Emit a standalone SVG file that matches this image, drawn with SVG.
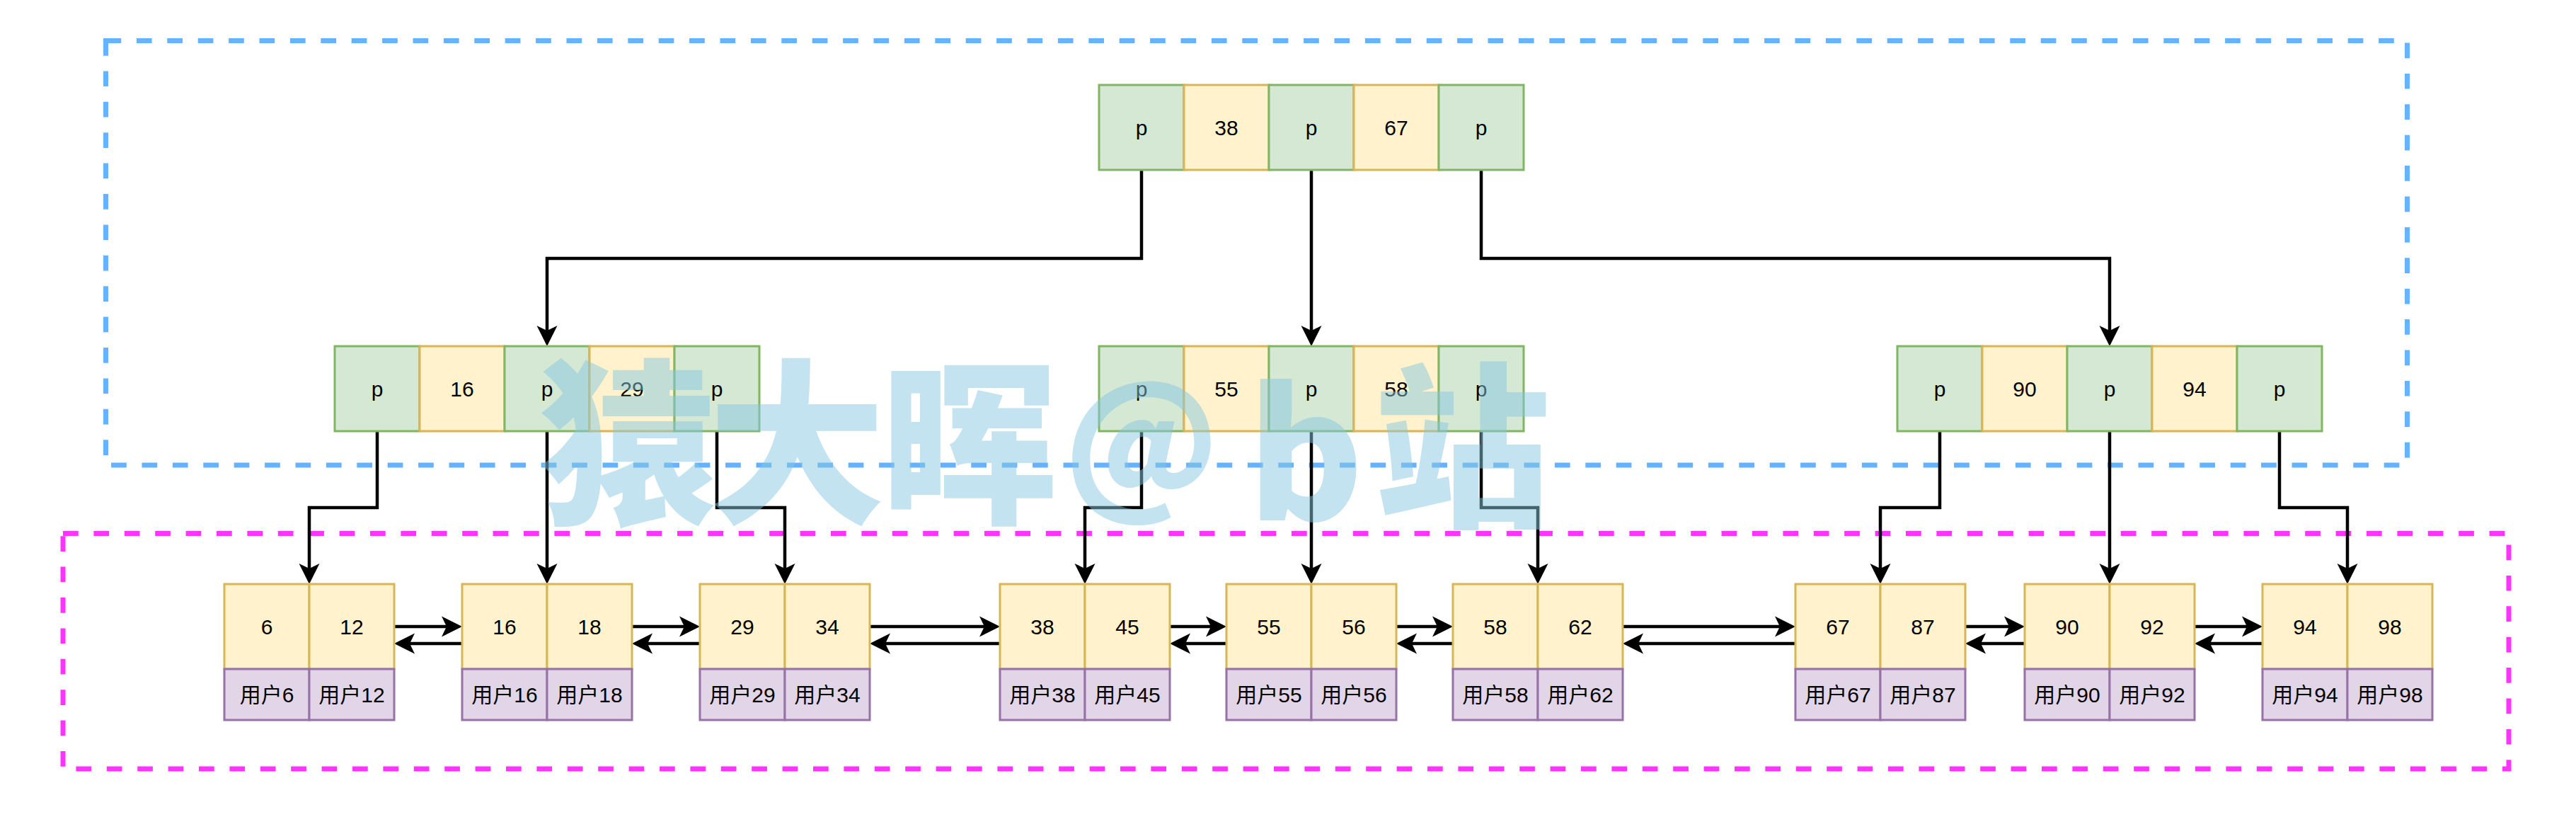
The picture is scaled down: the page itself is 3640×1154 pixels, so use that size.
<svg xmlns="http://www.w3.org/2000/svg" width="3640" height="1154" viewBox="0 0 3640 1154">
<defs>
<style>
.g{fill:#d5e8d4;stroke:#82b366;stroke-width:3}
.y{fill:#fff2cc;stroke:#d6b656;stroke-width:3}
.v{fill:#e1d5e7;stroke:#9673a6;stroke-width:3}
.t{font-family:"Liberation Sans","Noto Sans CJK SC",sans-serif;font-size:30px;text-anchor:middle;fill:#000}
.e{fill:none;stroke:#000;stroke-width:4.5;marker-end:url(#arr)}
.wm{font-family:"Noto Sans CJK SC",sans-serif;font-weight:900;font-size:250px;text-anchor:middle;fill:#87c8e0;opacity:0.5}
</style>
<marker id="arr" markerUnits="userSpaceOnUse" viewBox="-12 -16 34 32" refX="0" refY="0" markerWidth="34" markerHeight="32" orient="auto">
<path d="M20,0 L-9,-14.5 L-2,0 L-9,14.5 Z" fill="#000"/>
</marker>
</defs>
<rect width="3640" height="1154" fill="#fff"/>
<g id="containers">
<rect id="upper-box" x="149.5" y="57.5" width="3252" height="599.5" fill="none" stroke="#66B2FF" stroke-width="7" stroke-dasharray="21.7 21.7"/>
<rect id="leaf-box" x="89" y="753.5" width="3456" height="332.5" fill="none" stroke="#FF33FF" stroke-width="7" stroke-dasharray="21.7 21.7"/>
</g>
<g id="connectors">
<path class="e" d="M1613,240 V365 H773 V469"/>
<path class="e" d="M1853,240 V469"/>
<path class="e" d="M2093,240 V365 H2981 V469"/>
<path class="e" d="M533,609 V717 H437 V805"/>
<path class="e" d="M773,609 V805"/>
<path class="e" d="M1013,609 V717 H1109 V805"/>
<path class="e" d="M1613,609 V717 H1533 V805"/>
<path class="e" d="M1853,609 V805"/>
<path class="e" d="M2093,609 V717 H2173 V805"/>
<path class="e" d="M2741,609 V717 H2657 V805"/>
<path class="e" d="M2981,609 V805"/>
<path class="e" d="M3221,609 V717 H3317 V805"/>
<path class="e" d="M557,885 H633"/><path class="e" d="M653,909 H577"/>
<path class="e" d="M893,885 H969"/><path class="e" d="M989,909 H913"/>
<path class="e" d="M1229,885 H1393"/><path class="e" d="M1413,909 H1249"/>
<path class="e" d="M1653,885 H1713"/><path class="e" d="M1733,909 H1673"/>
<path class="e" d="M1973,885 H2033"/><path class="e" d="M2053,909 H1993"/>
<path class="e" d="M2293,885 H2517"/><path class="e" d="M2537,909 H2313"/>
<path class="e" d="M2777,885 H2841"/><path class="e" d="M2861,909 H2797"/>
<path class="e" d="M3101,885 H3177"/><path class="e" d="M3197,909 H3121"/>
</g>
<g id="root">
<rect class="g" x="1553" y="120" width="120" height="120"/><text class="t" x="1613" y="191">p</text>
<rect class="y" x="1673" y="120" width="120" height="120"/><text class="t" x="1733" y="191">38</text>
<rect class="g" x="1793" y="120" width="120" height="120"/><text class="t" x="1853" y="191">p</text>
<rect class="y" x="1913" y="120" width="120" height="120"/><text class="t" x="1973" y="191">67</text>
<rect class="g" x="2033" y="120" width="120" height="120"/><text class="t" x="2093" y="191">p</text>
</g>
<g id="inner-left">
<rect class="g" x="473" y="489" width="120" height="120"/><text class="t" x="533" y="560">p</text>
<rect class="y" x="593" y="489" width="120" height="120"/><text class="t" x="653" y="560">16</text>
<rect class="g" x="713" y="489" width="120" height="120"/><text class="t" x="773" y="560">p</text>
<rect class="y" x="833" y="489" width="120" height="120"/><text class="t" x="893" y="560">29</text>
<rect class="g" x="953" y="489" width="120" height="120"/><text class="t" x="1013" y="560">p</text>
</g>
<g id="inner-middle">
<rect class="g" x="1553" y="489" width="120" height="120"/><text class="t" x="1613" y="560">p</text>
<rect class="y" x="1673" y="489" width="120" height="120"/><text class="t" x="1733" y="560">55</text>
<rect class="g" x="1793" y="489" width="120" height="120"/><text class="t" x="1853" y="560">p</text>
<rect class="y" x="1913" y="489" width="120" height="120"/><text class="t" x="1973" y="560">58</text>
<rect class="g" x="2033" y="489" width="120" height="120"/><text class="t" x="2093" y="560">p</text>
</g>
<g id="inner-right">
<rect class="g" x="2681" y="489" width="120" height="120"/><text class="t" x="2741" y="560">p</text>
<rect class="y" x="2801" y="489" width="120" height="120"/><text class="t" x="2861" y="560">90</text>
<rect class="g" x="2921" y="489" width="120" height="120"/><text class="t" x="2981" y="560">p</text>
<rect class="y" x="3041" y="489" width="120" height="120"/><text class="t" x="3101" y="560">94</text>
<rect class="g" x="3161" y="489" width="120" height="120"/><text class="t" x="3221" y="560">p</text>
</g>
<g id="leaf-6-12">
<rect class="y" x="317" y="825" width="120" height="120"/><text class="t" x="377" y="896">6</text>
<rect class="y" x="437" y="825" width="120" height="120"/><text class="t" x="497" y="896">12</text>
<rect class="v" x="317" y="945" width="120" height="72"/><text class="t" x="377" y="992">用户6</text>
<rect class="v" x="437" y="945" width="120" height="72"/><text class="t" x="497" y="992">用户12</text>
</g>
<g id="leaf-16-18">
<rect class="y" x="653" y="825" width="120" height="120"/><text class="t" x="713" y="896">16</text>
<rect class="y" x="773" y="825" width="120" height="120"/><text class="t" x="833" y="896">18</text>
<rect class="v" x="653" y="945" width="120" height="72"/><text class="t" x="713" y="992">用户16</text>
<rect class="v" x="773" y="945" width="120" height="72"/><text class="t" x="833" y="992">用户18</text>
</g>
<g id="leaf-29-34">
<rect class="y" x="989" y="825" width="120" height="120"/><text class="t" x="1049" y="896">29</text>
<rect class="y" x="1109" y="825" width="120" height="120"/><text class="t" x="1169" y="896">34</text>
<rect class="v" x="989" y="945" width="120" height="72"/><text class="t" x="1049" y="992">用户29</text>
<rect class="v" x="1109" y="945" width="120" height="72"/><text class="t" x="1169" y="992">用户34</text>
</g>
<g id="leaf-38-45">
<rect class="y" x="1413" y="825" width="120" height="120"/><text class="t" x="1473" y="896">38</text>
<rect class="y" x="1533" y="825" width="120" height="120"/><text class="t" x="1593" y="896">45</text>
<rect class="v" x="1413" y="945" width="120" height="72"/><text class="t" x="1473" y="992">用户38</text>
<rect class="v" x="1533" y="945" width="120" height="72"/><text class="t" x="1593" y="992">用户45</text>
</g>
<g id="leaf-55-56">
<rect class="y" x="1733" y="825" width="120" height="120"/><text class="t" x="1793" y="896">55</text>
<rect class="y" x="1853" y="825" width="120" height="120"/><text class="t" x="1913" y="896">56</text>
<rect class="v" x="1733" y="945" width="120" height="72"/><text class="t" x="1793" y="992">用户55</text>
<rect class="v" x="1853" y="945" width="120" height="72"/><text class="t" x="1913" y="992">用户56</text>
</g>
<g id="leaf-58-62">
<rect class="y" x="2053" y="825" width="120" height="120"/><text class="t" x="2113" y="896">58</text>
<rect class="y" x="2173" y="825" width="120" height="120"/><text class="t" x="2233" y="896">62</text>
<rect class="v" x="2053" y="945" width="120" height="72"/><text class="t" x="2113" y="992">用户58</text>
<rect class="v" x="2173" y="945" width="120" height="72"/><text class="t" x="2233" y="992">用户62</text>
</g>
<g id="leaf-67-87">
<rect class="y" x="2537" y="825" width="120" height="120"/><text class="t" x="2597" y="896">67</text>
<rect class="y" x="2657" y="825" width="120" height="120"/><text class="t" x="2717" y="896">87</text>
<rect class="v" x="2537" y="945" width="120" height="72"/><text class="t" x="2597" y="992">用户67</text>
<rect class="v" x="2657" y="945" width="120" height="72"/><text class="t" x="2717" y="992">用户87</text>
</g>
<g id="leaf-90-92">
<rect class="y" x="2861" y="825" width="120" height="120"/><text class="t" x="2921" y="896">90</text>
<rect class="y" x="2981" y="825" width="120" height="120"/><text class="t" x="3041" y="896">92</text>
<rect class="v" x="2861" y="945" width="120" height="72"/><text class="t" x="2921" y="992">用户90</text>
<rect class="v" x="2981" y="945" width="120" height="72"/><text class="t" x="3041" y="992">用户92</text>
</g>
<g id="leaf-94-98">
<rect class="y" x="3197" y="825" width="120" height="120"/><text class="t" x="3257" y="896">94</text>
<rect class="y" x="3317" y="825" width="120" height="120"/><text class="t" x="3377" y="896">98</text>
<rect class="v" x="3197" y="945" width="120" height="72"/><text class="t" x="3257" y="992">用户94</text>
<rect class="v" x="3317" y="945" width="120" height="72"/><text class="t" x="3377" y="992">用户98</text>
</g>
<g id="watermark">
<text class="wm" x="887" y="720">猿</text>
<text class="wm" x="1126" y="720">大</text>
<text class="wm" x="1370" y="720">晖</text>
<text class="wm" x="1613" y="700" style="font-size:210px">@</text>
<text class="wm" x="1845" y="735">b</text>
<text class="wm" x="2066" y="725">站</text>
</g>
</svg>
